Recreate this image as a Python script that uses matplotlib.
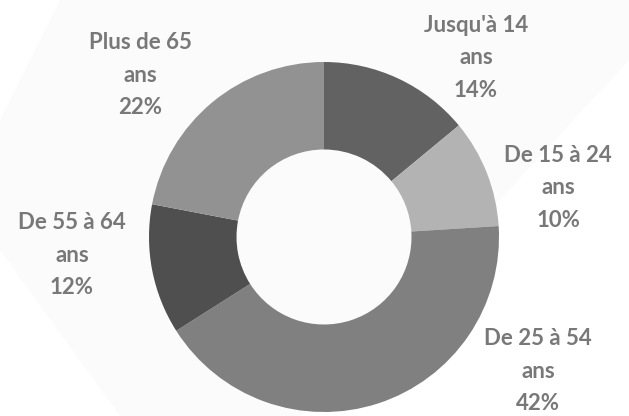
import matplotlib
matplotlib.use("Agg")
import matplotlib.pyplot as plt
from matplotlib.patches import Polygon

categories = ["Jusqu'à 14\nans", "De 15 à 24\nans", "De 25 à 54\nans", "De 55 à 64\nans", "Plus de 65\nans"]
values = [14, 10, 42, 12, 22]
colors = ["#626262", "#b3b3b3", "#808080", "#4f4f4f", "#929292"]

W, H = 629, 416
fig = plt.figure(figsize=(W / 100, H / 100), dpi=100)
fig.patch.set_facecolor("white")

# faint background shapes
bg = fig.add_axes([0, 0, 1, 1])
bg.set_xlim(0, W); bg.set_ylim(H, 0); bg.axis("off")
bg.add_patch(Polygon([[0, 120], [60, 0], [629, 0], [629, 60], [300, 416], [0, 416]], closed=True,
                     facecolor="#fbfbfb", edgecolor="none"))
bg.add_patch(Polygon([[0, 416], [0, 250], [120, 416]], closed=True, facecolor="#ffffff", edgecolor="none"))

cx, cy, r = 324, 237, 175
ax = fig.add_axes([(cx - r) / W, (H - cy - r) / H, 2 * r / W, 2 * r / H])
ax.pie(values, colors=colors, startangle=90, counterclock=False,
       wedgeprops=dict(width=0.5, edgecolor="none"))
ax.set_xlim(-1, 1); ax.set_ylim(-1, 1); ax.set_aspect("equal")
ax.axis("off")

label_pos = [(476, 58), (558, 188), (538, 371), (72, 255), (140, 75)]
for cat, v, (x, y) in zip(categories, values, label_pos):
    fig.text(x / W, 1 - y / H, f"{cat}\n{v}%", ha="center", va="center",
             fontsize=16, fontweight="bold", family="Lato", color="#787878",
             linespacing=1.65)

fig.savefig("out.png", dpi=100, facecolor=fig.get_facecolor())
